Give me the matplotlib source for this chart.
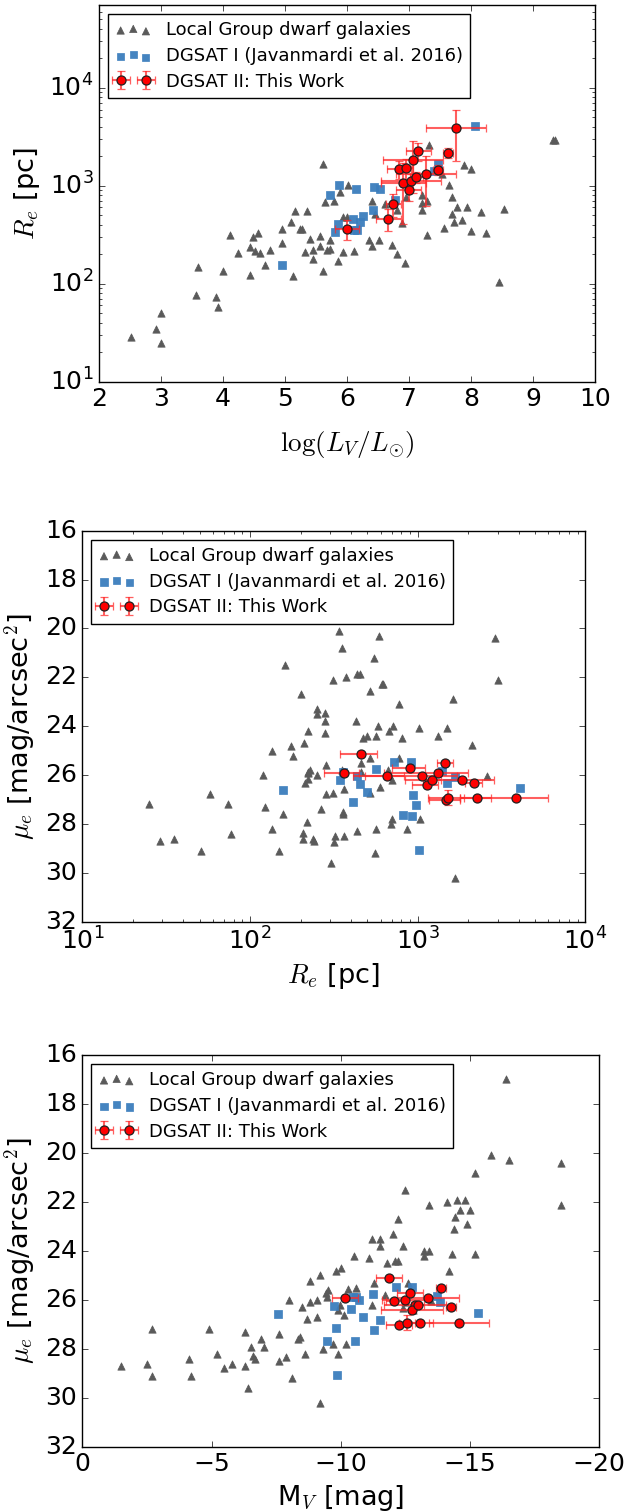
import matplotlib
matplotlib.use("Agg")
import matplotlib.pyplot as plt

# ---------------- data ----------------
# Panel 1: Local Group dwarfs  (log L_V, R_e [pc])
lg1_logL = [2.52, 2.92, 3.0, 3.0, 3.60, 3.56, 3.88, 3.92, 4.0, 4.12, 4.24, 4.43, 4.43, 4.48,
            4.56, 4.52, 4.60, 4.68, 4.76, 4.96, 4.96, 5.13, 5.09, 5.17, 5.25, 5.28, 5.36, 5.32,
            5.40, 5.45, 5.45, 5.57, 5.57, 5.61, 5.68, 5.73, 5.73, 5.61, 5.65, 5.79, 6.01, 5.89,
            5.94, 6.00, 6.36, 6.41, 6.52, 6.73, 6.81, 6.93, 6.41, 6.45, 6.61, 6.89, 6.81, 6.96,
            7.21, 7.21, 7.29, 7.21, 7.29, 7.33, 7.65, 7.69, 7.77, 7.69, 7.93, 7.85, 7.73, 7.57,
            8.01, 8.17, 8.25, 7.89, 8.01, 7.53, 8.46, 9.33, 9.35, 8.53, 5.93, 6.12, 5.85]
lg1_Re = [28.5, 34.6, 50, 24.8, 148, 76, 73, 58, 134, 313, 204, 238, 122, 299,
          328, 215, 204, 154, 219, 363, 261, 119, 425, 550, 360, 360, 558, 212,
          283, 219, 178, 308, 245, 135, 219, 279, 224, 1650, 683, 698, 1016, 857,
          479, 480, 281, 244, 278, 249, 200, 161, 698, 520, 657, 421, 560, 768,
          798, 667, 698, 562, 313, 2575, 1009, 767, 607, 512, 603, 452, 431, 372,
          346, 545, 333, 1614, 1479, 1306, 105, 2897, 2950, 585, 209, 217, 171]

# Panel 1: DGSAT I
d1_logL = [4.96, 5.72, 5.88, 6.14, 6.43, 6.53, 6.42, 6.26, 6.21, 6.10, 5.85, 5.81, 6.11,
           6.16, 6.77, 7.47, 7.41, 8.06]
d1_Re = [156, 813, 1016, 918, 963, 918, 562, 492, 427, 459, 411, 338, 352,
         357, 721, 1678, 1413, 4048]

# DGSAT II (this work) -- 15 galaxies
d2_logL = [7.76, 7.63, 7.47, 7.15, 7.07, 6.84, 6.95, 6.91, 7.03, 7.12, 7.28, 7.00, 6.75, 6.67, 6.00]
d2_logL_err = [0.48, 0.08, 0.08, 0.20, 0.48, 0.20, 0.12, 0.36, 0.48, 0.10, 0.48, 0.20, 0.12, 0.20, 0.20]
d2_Re = [3870, 2155, 1460, 2260, 1845, 1475, 1515, 1060, 1130, 1220, 1318, 898, 655, 458, 363]
d2_Re_err = [2080, 250, 160, 470, 1000, 300, 370, 650, 200, 150, 690, 200, 170, 115, 85]
d2_mu = [26.93, 26.31, 25.52, 26.93, 26.21, 27.03, 26.93, 26.02, 26.42, 26.21, 25.92, 25.72,
         26.03, 25.12, 25.93]
d2_mu_err = [0.05, 0.05, 0.05, 0.05, 0.05, 0.05, 0.30, 0.05, 0.05, 0.05, 0.05, 0.05, 0.05, 0.05, 0.05]
d2_MV = [-14.58, -14.27, -13.87, -13.08, -12.86, -12.27, -12.57, -12.48, -12.77, -12.98,
         -13.38, -12.68, -12.07, -11.87, -10.18]
d2_MV_err = [1.15, 0.2, 0.2, 0.5, 1.2, 0.5, 0.3, 0.9, 1.2, 0.25, 1.2, 0.5, 0.3, 0.5, 0.5]

# Panel 2: Local Group dwarfs (R_e, mu_e)
lg2_Re = [25, 29, 35, 51, 58, 74, 77, 120, 123, 135, 135, 149, 157, 162, 176, 181, 202, 209,
          221, 221, 228, 213, 221, 250, 219, 206, 206, 241, 250, 250, 264, 340, 354, 588,
          548, 2890, 3013, 314, 374, 437, 455, 517, 612, 625, 776, 1617, 281, 279, 427,
          281, 470, 499, 561, 577, 678, 710, 809, 1023, 1321, 1489, 2099, 521, 457, 774,
          283, 459, 665, 355, 2577, 223, 703, 596, 517, 314, 362, 285, 360, 360, 433, 561,
          706, 693, 867, 1028, 323, 239, 365, 317, 556, 303, 1667]
lg2_mu = [27.2, 28.68, 28.6, 29.09, 26.79, 27.2, 28.4, 26.0, 27.31, 25.0, 28.2, 29.09, 27.59,
          21.5, 24.8, 25.21, 22.69, 24.7, 24.18, 25.89, 25.79, 26.31, 26.16, 26.0, 27.9,
          28.38, 28.6, 28.71, 23.31, 23.5, 27.39, 20.09, 20.79, 20.3, 21.2, 20.4, 22.1,
          22.1, 21.99, 21.86, 21.86, 22.56, 22.27, 22.27, 23.09, 22.89, 23.47, 23.79, 23.79,
          24.29, 24.48, 24.4, 24.39, 23.99, 24.18, 23.99, 24.48, 24.09, 24.39, 24.09, 24.78,
          25.29, 25.49, 25.29, 25.59, 25.86, 25.79, 25.79, 26.02, 25.93, 26.2, 26.5, 26.72,
          26.72, 26.58, 26.79, 27.5, 27.6, 28.27, 28.19, 27.8, 28.0, 28.19, 27.8, 28.49,
          28.62, 28.49, 28.75, 29.2, 29.61, 30.2]

# Panel 2: DGSAT I
d1_Re2 = [157, 566, 719, 912, 1389, 1667, 1489, 344, 357, 433, 455, 499, 411, 934, 972,
          813, 929, 4074, 1018]
d1_mu2 = [26.6, 25.74, 25.48, 25.48, 25.82, 26.07, 26.34, 26.21, 25.89, 26.02, 26.36, 26.68,
          27.11, 26.8, 27.24, 27.65, 27.67, 26.52, 29.08]

# Panel 3: Local Group dwarfs (M_V, mu_e)
lg3_MV = [-1.51, -2.49, -2.7, -2.7, -4.11, -4.21, -4.9, -5.21, -5.5, -5.8, -6.3, -6.3, -6.41,
          -6.51, -6.6, -6.7, -6.91, -7.04, -16.4, -15.8, -16.5, -18.51, -18.51, -15.21, -12.5,
          -13.41, -14.12, -14.5, -14.83, -14.61, -14.99, -14.41, -14.4, -14.9, -12.22, -12.01,
          -11.22, -11.51, -11.51, -12.41, -10.52, -11.1, -13.21, -13.41, -13.21, -14.3,
          -15.21, -11.79, -12.12, -12.22, -9.21, -8.81, -9.82, -10.01, -10.6, -11.3, -11.7,
          -9.51, -9.44, -9.48, -8.01, -8.5, -8.81, -9.1, -9.98, -9.91, -10.11, -11.21,
          -12.61, -14.21, -13.5, -12.4, -8.71, -9.1, -7.61, -8.35, -8.41, -7.9, -7.61, -8.6,
          -9.3, -9.7, -9.91, -10.2, -8.1, -9.21, -10.3, -12.5, -12.8]
lg3_mu = [28.7, 28.61, 27.2, 29.11, 28.41, 29.11, 27.2, 28.21, 28.8, 28.61, 27.32, 28.7, 29.6,
          27.92, 28.31, 28.42, 27.61, 27.92, 16.99, 20.1, 20.3, 20.41, 22.11, 20.81, 21.5,
          22.11, 21.99, 21.91, 21.91, 22.32, 22.32, 22.6, 23.11, 22.92, 22.71, 23.31, 23.5,
          23.5, 23.8, 23.8, 24.21, 24.3, 24.0, 24.0, 24.21, 24.13, 24.13, 24.51, 24.41,
          24.41, 25.0, 25.22, 24.81, 24.71, 25.51, 25.3, 25.8, 25.6, 25.74, 25.87, 26.01,
          26.31, 26.1, 26.01, 26.21, 26.42, 26.62, 26.21, 25.3, 24.81, 26.04, 26.35, 26.8,
          26.72, 27.41, 27.61, 27.53, 28.32, 28.51, 28.21, 28.01, 27.82, 28.21, 27.82, 29.21,
          30.22, 25.55, 26.1, 26.4]

# Panel 3: DGSAT I
d1_MV3 = [-7.59, -9.74, -9.8, -9.48, -9.87, -10.41, -10.54, -10.69, -10.48, -10.6, -10.85,
          -11.24, -11.52, -11.29, -12.13, -12.76, -13.72, -13.86, -15.33]
d1_mu3 = [26.59, 26.24, 27.15, 27.67, 29.08, 26.38, 27.69, 26.01, 25.9, 25.9, 26.72, 25.75,
          26.81, 27.25, 25.49, 25.49, 25.83, 26.08, 26.53]

labels = ["Local Group dwarf galaxies", "DGSAT I (Javanmardi et al. 2016)", "DGSAT II: This Work"]

# ---------------- style ----------------
plt.style.use('classic')
plt.rcParams['figure.facecolor'] = 'white'
plt.rcParams['savefig.facecolor'] = 'white'
plt.rcParams['font.family'] = ['DejaVu Sans']

TRI_C = '#5a5a5a'
SQ_C = '#3b7dbd'
TICK_FS = 18
LAB_FS = 19.5
LEG_FS = 13

fig = plt.figure(figsize=(6.28, 15.12), dpi=100)
ax1 = fig.add_axes([0.1576, 0.7476, 0.7896, 0.2491])
ax2 = fig.add_axes([0.1311, 0.3904, 0.8011, 0.2586])
ax3 = fig.add_axes([0.1311, 0.0432, 0.8228, 0.2591])


def draw(ax, lgx, lgy, d1x, d1y, rx, ry, rxe, rye):
    ax.scatter(lgx, lgy, marker='^', s=28, c=TRI_C, edgecolors=TRI_C, linewidths=0.5,
               label=labels[0], zorder=2)
    ax.scatter(d1x, d1y, marker='s', s=26, c=SQ_C, edgecolors=SQ_C, linewidths=0.5,
               alpha=0.95, label=labels[1], zorder=3)
    eb = ax.errorbar(rx, ry, xerr=rxe, yerr=rye, fmt='o', color='red', mfc='red', mec='#202020',
                     mew=0.9, ms=6.5, ecolor='#ff2a2a', elinewidth=1.5, capsize=3, capthick=1.2,
                     label=labels[2], zorder=4)
    for c in eb[1]:
        c.set_alpha(0.75)
    for c in eb[2]:
        c.set_alpha(0.75)
    leg = ax.legend(loc='upper left', fontsize=LEG_FS, scatterpoints=3, numpoints=2,
                    fancybox=False, borderaxespad=0.5, labelspacing=0.43)
    leg.get_frame().set_edgecolor('black')
    ax.tick_params(labelsize=TICK_FS)


# Panel 1
draw(ax1, lg1_logL, lg1_Re, d1_logL, d1_Re, d2_logL, d2_Re, d2_logL_err, d2_Re_err)
ax1.set_yscale('log')
ax1.set_xlim(2, 10)
ax1.set_ylim(10, 7e4)
ax1.set_xticks([2, 3, 4, 5, 6, 7, 8, 9, 10])
ax1.set_xlabel(r'$\log(L_V/L_{\odot})$', fontsize=LAB_FS, labelpad=13)
ax1.set_ylabel(r'$R_e$ [pc]', fontsize=LAB_FS)

# Panel 2
draw(ax2, lg2_Re, lg2_mu, d1_Re2, d1_mu2, d2_Re, d2_mu, d2_Re_err, d2_mu_err)
ax2.set_xscale('log')
ax2.set_xlim(10, 1e4)
ax2.set_ylim(32, 16)
ax2.set_yticks([16, 18, 20, 22, 24, 26, 28, 30, 32])
ax2.set_xlabel(r'$R_e$ [pc]', fontsize=LAB_FS)
ax2.set_ylabel(r'$\mu_e$ [mag/arcsec$^2$]', fontsize=LAB_FS)

# Panel 3
draw(ax3, lg3_MV, lg3_mu, d1_MV3, d1_mu3, d2_MV, d2_mu, d2_MV_err, d2_mu_err)
ax3.set_xlim(0, -20)
ax3.set_ylim(32, 16)
ax3.set_xticks([0, -5, -10, -15, -20])
ax3.set_yticks([16, 18, 20, 22, 24, 26, 28, 30, 32])
ax3.set_xlabel(r'M$_V$ [mag]', fontsize=LAB_FS)
ax3.set_ylabel(r'$\mu_e$ [mag/arcsec$^2$]', fontsize=LAB_FS)

fig.savefig('out.png', dpi=100)
